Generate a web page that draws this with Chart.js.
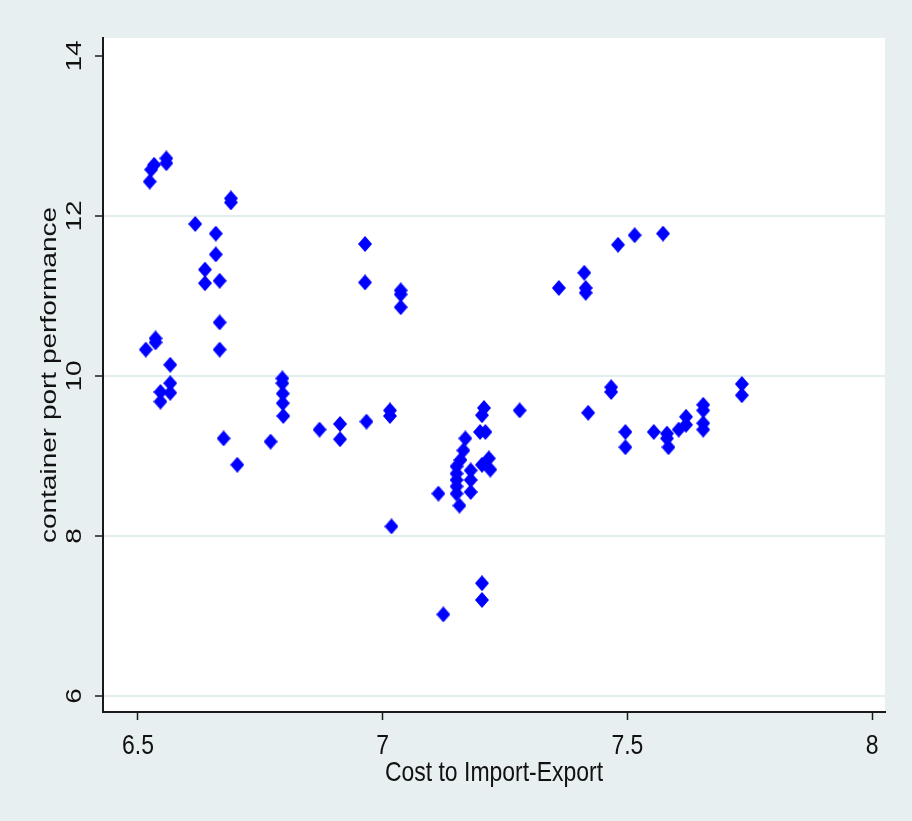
<!DOCTYPE html>
<html>
<head>
<meta charset="utf-8">
<script src="https://cdn.jsdelivr.net/npm/chart.js@4/dist/chart.umd.min.js"></script>
<style>
  html, body { margin: 0; padding: 0; background: #e8eff1; }
  canvas { display: block; }
</style>
</head>
<body>
<canvas id="chart" width="912" height="821"></canvas>
<script>
// Cost to import-export (log) against container port performance, one point per country-year
const costImportExport = [
  6.516, 6.524, 6.527, 6.533, 6.536, 6.536, 6.546, 6.546, 6.558, 6.558,
  6.566, 6.566, 6.566, 6.617, 6.637, 6.637, 6.659, 6.659, 6.667, 6.667,
  6.667, 6.675, 6.690, 6.690, 6.703, 6.771, 6.795, 6.795, 6.796, 6.796,
  6.797, 6.871, 6.913, 6.913, 6.964, 6.964, 6.967, 7.015, 7.015, 7.018,
  7.037, 7.037, 7.037, 7.114, 7.124, 7.157, 7.151, 7.151, 7.151, 7.151,
  7.151, 7.159, 7.165, 7.169, 7.180, 7.180, 7.180, 7.199, 7.210, 7.207,
  7.203, 7.203, 7.217, 7.220, 7.203, 7.203, 7.280, 7.360, 7.412, 7.415,
  7.415, 7.420, 7.467, 7.467, 7.481, 7.496, 7.496, 7.515, 7.554, 7.573,
  7.581, 7.581, 7.584, 7.605, 7.620, 7.620, 7.655, 7.655, 7.655, 7.655,
  7.734, 7.734
];
const portPerformance = [
  10.33, 12.43, 12.58, 12.64, 10.47, 10.42, 9.80, 9.68, 12.72, 12.66,
  10.14, 9.91, 9.79, 11.90, 11.33, 11.16, 11.78, 11.52, 11.19, 10.67,
  10.33, 9.22, 12.22, 12.17, 8.89, 9.18, 9.97, 9.91, 9.78, 9.66,
  9.50, 9.33, 9.40, 9.21, 11.65, 11.17, 9.43, 9.57, 9.50, 8.12,
  11.07, 11.02, 10.86, 8.53, 7.02, 8.38, 8.87, 8.78, 8.70, 8.62,
  8.53, 8.95, 9.07, 9.22, 8.82, 8.70, 8.55, 9.30, 9.30, 9.60,
  9.51, 8.89, 8.97, 8.83, 7.41, 7.20, 9.57, 11.10, 11.29, 11.10,
  11.04, 9.54, 9.86, 9.80, 11.64, 9.30, 9.11, 11.76, 9.30, 11.78,
  9.28, 9.22, 9.11, 9.33, 9.49, 9.39, 9.64, 9.57, 9.41, 9.33,
  9.90, 9.76
];
const xTickValues = [6.5, 7, 7.5, 8];
const yTickValues = [6, 8, 10, 12, 14];
const xTitle = 'Cost to Import-Export';
const yTitle = 'container port performance';

const points = costImportExport.map((x, i) => ({ x: x, y: portPerformance[i] }));

const AXIS_INK = '#1a1a1a';
const TEXT_INK = '#111111';
const FONT = '28px "Liberation Sans", Arial, sans-serif';
const H_SQUEEZE = 0.82;   // narrow lettering

// solid blue diamond marker, slightly taller than wide
function diamondMarker(w, h, color) {
  const c = document.createElement('canvas');
  c.width = w; c.height = h;
  const g = c.getContext('2d');
  g.fillStyle = color;
  g.beginPath();
  g.moveTo(w / 2, 0);
  g.lineTo(w, h / 2);
  g.lineTo(w / 2, h);
  g.lineTo(0, h / 2);
  g.closePath();
  g.fill();
  return c;
}
const marker = diamondMarker(14, 16, '#0000ff');

// outer panel colour and white plotting region
const panels = {
  id: 'panels',
  beforeDraw(chart) {
    const { ctx, chartArea: a } = chart;
    ctx.save();
    ctx.fillStyle = '#e8eff1';
    ctx.fillRect(0, 0, chart.width, chart.height);
    ctx.fillStyle = '#ffffff';
    ctx.fillRect(a.left, a.top, a.right - a.left, a.bottom - a.top);
    ctx.restore();
  }
};

// axis labels and titles in narrow lettering, y-axis text rotated
const axisText = {
  id: 'axisText',
  afterDraw(chart) {
    const { ctx, chartArea: a } = chart;
    const xs = chart.scales.x, ys = chart.scales.y;
    ctx.save();
    ctx.fillStyle = TEXT_INK;
    ctx.font = FONT;
    ctx.textAlign = 'center';
    ctx.textBaseline = 'middle';

    const flat = (txt, x, y) => {
      ctx.save();
      ctx.translate(x, y);
      ctx.scale(H_SQUEEZE, 1);
      ctx.fillText(txt, 0, 0);
      ctx.restore();
    };
    const upright = (txt, x, y) => {
      ctx.save();
      ctx.translate(x, y);
      ctx.scale(H_SQUEEZE, 1);
      ctx.rotate(-Math.PI / 2);
      ctx.fillText(txt, 0, 0);
      ctx.restore();
    };

    xTickValues.forEach(v => flat(String(v), xs.getPixelForValue(v), 746));
    flat(xTitle, (a.left + a.right) / 2, 773);

    yTickValues.forEach(v => upright(String(v), 75, ys.getPixelForValue(v)));
    upright(yTitle, 50, (a.top + a.bottom) / 2);
    ctx.restore();
  }
};

new Chart(document.getElementById('chart'), {
  type: 'scatter',
  data: {
    datasets: [{
      data: points,
      pointStyle: marker,
      pointRadius: 7,
      pointHoverRadius: 7,
      backgroundColor: '#0000ff',
      borderColor: '#0000ff',
      borderWidth: 0
    }]
  },
  options: {
    responsive: false,
    animation: false,
    devicePixelRatio: 1,
    layout: { padding: { top: 38, right: 27, left: 0, bottom: 0 } },
    plugins: {
      legend: { display: false },
      tooltip: { enabled: false }
    },
    scales: {
      x: {
        type: 'linear',
        min: 6.4286,
        max: 8.0265,
        afterBuildTicks: s => { s.ticks = xTickValues.map(v => ({ value: v })); },
        afterFit: s => { s.height = 109; },
        ticks: { display: false },
        grid: {
          drawOnChartArea: false,
          drawTicks: true,
          tickLength: 8,
          tickColor: AXIS_INK,
          tickWidth: 1.5
        },
        border: { display: true, color: AXIS_INK, width: 2 }
      },
      y: {
        type: 'linear',
        min: 5.8,
        max: 14.225,
        afterBuildTicks: s => { s.ticks = yTickValues.map(v => ({ value: v })); },
        afterFit: s => { s.width = 103; },
        ticks: { display: false },
        grid: {
          color: c => (c.tick && c.tick.value === 14) ? 'rgba(0,0,0,0)' : '#e3edf0',
          lineWidth: 2,
          drawTicks: true,
          tickLength: 8,
          tickColor: AXIS_INK,
          tickWidth: 1.5
        },
        border: { display: true, color: AXIS_INK, width: 2 }
      }
    }
  },
  plugins: [panels, axisText]
});
</script>
</body>
</html>
